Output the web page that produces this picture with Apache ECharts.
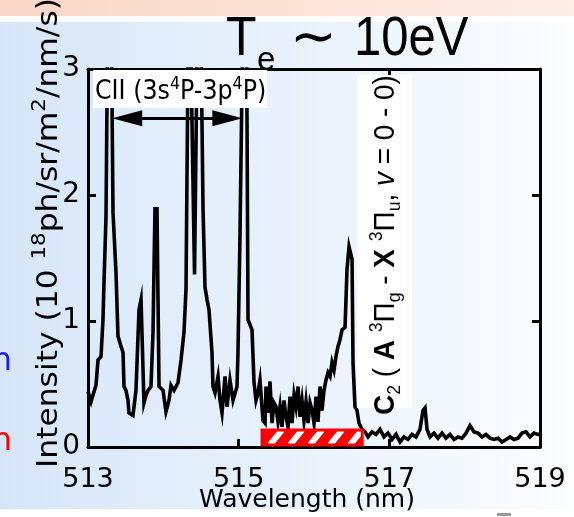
<!DOCTYPE html>
<html>
<head>
<meta charset="utf-8">
<script src="https://cdn.jsdelivr.net/npm/echarts@6/dist/echarts.min.js"></script>
<style>
  html, body { margin: 0; padding: 0; background: #fff; }
  #chart { width: 574px; height: 517px; }
</style>
</head>
<body>
<div id="chart"></div>
<script>
// Emission spectrum around the C2 Swan band head (Te ~ 10 eV)
const wavelength = [
  513.000, 513.013, 513.040, 513.066, 513.106, 513.133, 513.173, 513.199, 513.212, 513.239,
  513.285, 513.332, 513.372, 513.398, 513.438, 513.465, 513.478, 513.504, 513.531, 513.544,
  513.597, 513.637, 513.677, 513.704, 513.730, 513.743, 513.770, 513.797, 513.836, 513.863,
  513.889, 513.916, 513.929, 513.943, 513.996, 514.035, 514.075, 514.102, 514.142, 514.195,
  514.235, 514.274, 514.301, 514.341, 514.414, 514.474, 514.527, 514.553, 514.580, 514.606,
  514.646, 514.659, 514.686, 514.726, 514.752, 514.779, 514.819, 514.845, 514.885, 514.925,
  514.978, 514.991, 515.018, 515.091, 515.124, 515.177, 515.204, 515.230, 515.257, 515.283,
  515.323, 515.350, 515.363, 515.389, 515.416, 515.443, 515.469, 515.496, 515.522, 515.549,
  515.575, 515.602, 515.628, 515.655, 515.682, 515.708, 515.735, 515.761, 515.788, 515.814,
  515.841, 515.867, 515.894, 515.921, 515.947, 515.974, 516.000, 516.027, 516.053, 516.080,
  516.106, 516.133, 516.159, 516.186, 516.213, 516.239, 516.266, 516.292, 516.319, 516.345,
  516.372, 516.412, 516.438, 516.465, 516.491, 516.505, 516.518, 516.544, 516.571, 516.597,
  516.637, 516.677, 516.717, 516.770, 516.823, 516.876, 516.929, 516.982, 517.036, 517.089,
  517.142, 517.195, 517.248, 517.301, 517.354, 517.407, 517.447, 517.474, 517.500, 517.540,
  517.593, 517.646, 517.699, 517.752, 517.805, 517.858, 517.912, 517.965, 518.018, 518.071,
  518.124, 518.177, 518.230, 518.283, 518.336, 518.389, 518.443, 518.496, 518.549, 518.602,
  518.655, 518.708, 518.761, 518.814, 518.867, 518.920, 518.973, 519.000
];
const intensity = [
  0.44, 0.45, 0.36, 0.37, 0.49, 0.69, 0.72, 1.01, 1.30, 1.83,
  5.00, 1.86, 1.38, 0.88, 0.80, 0.75, 0.48, 0.45, 0.37, 0.27,
  0.25, 0.45, 1.09, 1.17, 1.17, 0.35, 0.41, 0.45, 0.48, 0.91,
  1.89, 1.89, 1.19, 0.48, 0.45, 0.28, 0.37, 0.49, 0.45, 0.51,
  0.69, 0.91, 1.25, 4.00, 1.37, 4.50, 1.89, 1.27, 1.17, 1.09,
  0.75, 0.48, 0.43, 0.56, 0.37, 0.27, 0.56, 0.32, 0.53, 0.37,
  0.48, 0.75, 1.70, 5.00, 1.01, 0.93, 0.51, 0.37, 0.43, 0.53,
  0.21, 0.19, 0.48, 0.27, 0.52, 0.19, 0.35, 0.32, 0.20, 0.32,
  0.16, 0.37, 0.24, 0.16, 0.40, 0.19, 0.41, 0.32, 0.48, 0.24,
  0.37, 0.21, 0.36, 0.19, 0.35, 0.29, 0.19, 0.40, 0.20, 0.48,
  0.29, 0.45, 0.53, 0.59, 0.56, 0.67, 0.61, 0.72, 0.80, 0.85,
  0.93, 0.95, 1.41, 1.59, 1.59, 1.49, 0.67, 0.32, 0.29, 0.19,
  0.14, 0.12, 0.08, 0.12, 0.10, 0.14, 0.08, 0.11, 0.06, 0.10,
  0.04, 0.08, 0.06, 0.10, 0.08, 0.14, 0.29, 0.31, 0.14, 0.08,
  0.11, 0.07, 0.11, 0.07, 0.10, 0.06, 0.08, 0.07, 0.11, 0.17,
  0.12, 0.11, 0.08, 0.10, 0.07, 0.06, 0.07, 0.04, 0.06, 0.08,
  0.06, 0.07, 0.11, 0.12, 0.08, 0.11, 0.10, 0.10
];

// Axis ranges and tick steps
const xRange = [513, 519];
const xStep = 2;
const yRange = [0, 3];
const yStep = 1;

// CII multiplet span (double arrow) and the hatched C2 integration band
const ciiSpan = [513.52, 514.85];
const ciiLevel = 2.61;
const bandSpan = [515.31, 516.64];
const bandLevel = [0.016, 0.135];

const FONT = 'DejaVu Sans';
const chart = echarts.init(document.getElementById('chart'), null, { renderer: 'canvas' });

const axisLine = { show: true, onZero: false, lineStyle: { color: '#000', width: 3 } };
const innerTick = { show: true, inside: true, length: 8, lineStyle: { color: '#000', width: 3 } };

// Red box with white diagonal hatching, placed from data coordinates
function hatchItem(params, api) {
  const tl = api.coord([api.value(0), api.value(3)]);
  const br = api.coord([api.value(1), api.value(2)]);
  const x = tl[0], y = tl[1], w = br[0] - tl[0], h = br[1] - tl[1];
  const slant = 12, gap = 20;
  const children = [{ type: 'rect', shape: { x, y, width: w, height: h }, style: { fill: '#ff0000' } }];
  for (let s = x - slant; s < x + w; s += gap) {
    const t1 = Math.max(0, (x - s) / slant);
    const t2 = Math.min(1, (x + w - s) / slant);
    if (t2 <= t1) continue;
    children.push({
      type: 'line',
      shape: { x1: s + slant * t1, y1: y + h - h * t1, x2: s + slant * t2, y2: y + h - h * t2 },
      style: { stroke: '#ffffff', lineWidth: 6 }
    });
  }
  children.push({ type: 'rect', shape: { x, y, width: w, height: h }, style: { fill: 'none', stroke: '#ff0000', lineWidth: 3 } });
  return { type: 'group', children };
}

const option = {
  animation: false,
  grid: { left: 88, top: 69, width: 452, height: 378, containLabel: false, outerBoundsMode: 'none' },
  xAxis: [
    {
      type: 'value', min: xRange[0], max: xRange[1], interval: xStep, position: 'bottom',
      axisLine, axisTick: innerTick, splitLine: { show: false },
      axisLabel: { color: '#000', fontFamily: FONT, fontSize: 27, margin: 19 },
      name: 'Wavelength (nm)', nameLocation: 'middle', nameGap: 41, nameMoveOverlap: false,
      nameTextStyle: { color: '#000', fontFamily: FONT, fontSize: 25, padding: [0, 14, 0, 0] }
    },
    {
      type: 'value', min: xRange[0], max: xRange[1], interval: xStep, position: 'top',
      axisLine, axisTick: innerTick, splitLine: { show: false }, axisLabel: { show: false }
    }
  ],
  yAxis: [
    {
      type: 'value', min: yRange[0], max: yRange[1], interval: yStep, position: 'left',
      axisLine, axisTick: innerTick, splitLine: { show: false },
      axisLabel: { color: '#000', fontFamily: FONT, fontSize: 28, margin: 8 }
    },
    {
      type: 'value', min: yRange[0], max: yRange[1], interval: yStep, position: 'right',
      axisLine, axisTick: innerTick, splitLine: { show: false }, axisLabel: { show: false }
    }
  ],
  series: [
    {
      type: 'line',
      data: wavelength.map((w, i) => [w, intensity[i]]),
      showSymbol: false,
      clip: true,
      lineStyle: { color: '#000', width: 3.6, join: 'miter' },
      z: 3,
      markLine: {
        silent: true,
        symbol: ['triangle', 'triangle'],
        symbolSize: [16, 30],
        lineStyle: { color: '#000', width: 3, type: 'solid' },
        label: { show: false },
        data: [[{ coord: [ciiSpan[0], ciiLevel] }, { coord: [ciiSpan[1], ciiLevel] }]]
      }
    },
    {
      type: 'custom',
      renderItem: hatchItem,
      encode: { x: [0, 1], y: [2, 3] },
      data: [[bandSpan[0], bandSpan[1], bandLevel[0], bandLevel[1]]],
      z: 4
    }
  ],
  graphic: [
    // slide background
    { type: 'rect', z: -20, shape: { x: 0, y: 0, width: 574, height: 517 },
      style: { fill: new echarts.graphic.LinearGradient(0, 0, 1, 0, [
        { offset: 0, color: '#d6e6f8' }, { offset: 1, color: '#fbfdff' }]) } },
    { type: 'rect', z: -19, shape: { x: 0, y: 0, width: 574, height: 16 },
      style: { fill: new echarts.graphic.LinearGradient(0, 0, 1, 0, [
        { offset: 0, color: '#fad7c6' }, { offset: 1, color: '#fdeee6' }]) } },
    { type: 'rect', z: -19, shape: { x: 0, y: 16, width: 574, height: 6 }, style: { fill: '#ffffff' } },
    { type: 'rect', z: -19, shape: { x: 0, y: 509, width: 574, height: 8 }, style: { fill: '#ffffff' } },
    { type: 'rect', z: -18, shape: { x: 497, y: 513, width: 14, height: 3 }, style: { fill: '#9a9a9a' } },

    // title
    { type: 'text', z: 10, x: 226, y: 40, scaleY: 1.12,
      style: { text: 'T', font: '50px "Liberation Sans"', fill: '#000', verticalAlign: 'middle', align: 'left' } },
    { type: 'text', z: 10, x: 257, y: 61,
      style: { text: 'e', font: '33px "Liberation Sans"', fill: '#000', verticalAlign: 'middle', align: 'left' } },
    { type: 'text', z: 10, x: 290, y: 40,
      style: { text: '\u223C', font: '56px "DejaVu Sans"', fill: '#000', verticalAlign: 'middle', align: 'left' } },
    { type: 'text', z: 10, x: 354, y: 40, scaleY: 1.12,
      style: { text: '10eV', font: '49px "Liberation Sans"', fill: '#000', verticalAlign: 'middle', align: 'left' } },

    // CII label
    { type: 'rect', z: 10, shape: { x: 93, y: 70, width: 174, height: 38 }, style: { fill: '#ffffff' } },
    { type: 'text', z: 11, x: 95, y: 92, scaleX: 0.88,
      style: {
        text: '{m|CII (3s}{s|4}{m|P-3p}{s|4}{m|P)}',
        align: 'left', verticalAlign: 'middle',
        rich: {
          m: { fontFamily: FONT, fontSize: 27, color: '#000', verticalAlign: 'middle' },
          s: { fontFamily: FONT, fontSize: 18, color: '#000', verticalAlign: 'middle', padding: [0, 0, 15, 0] }
        }
      } },

    // C2 band label
    { type: 'rect', z: 10, shape: { x: 357, y: 75, width: 55, height: 333 }, style: { fill: '#ffffff' } },
    { type: 'text', z: 11, x: 386, y: 245, rotation: Math.PI / 2, scaleX: 0.93,
      style: {
        text: '{b|C}{sb|2}{r| ( }{b|A }{sp|3}{r|\u03A0}{sb|g}{r| - }{b|X }{sp|3}{r|\u03A0}{sb|u}{r|, }{i|v}{r| = 0 - 0)}',
        align: 'center', verticalAlign: 'middle',
        rich: {
          b: { fontFamily: 'Liberation Sans', fontWeight: 'bold', fontSize: 30, color: '#ff0000', verticalAlign: 'middle' },
          r: { fontFamily: 'Liberation Sans', fontSize: 30, color: '#ff0000', verticalAlign: 'middle' },
          i: { fontFamily: 'Liberation Sans', fontStyle: 'italic', fontSize: 30, color: '#ff0000', verticalAlign: 'middle' },
          sp: { fontFamily: 'Liberation Sans', fontSize: 19, color: '#ff0000', verticalAlign: 'middle', padding: [0, 0, 19, 0] },
          sb: { fontFamily: 'Liberation Sans', fontSize: 19, color: '#ff0000', verticalAlign: 'middle', padding: [17, 0, 0, 0] }
        }
      } },

    // y-axis title
    { type: 'text', z: 10, x: 50, y: 233, rotation: Math.PI / 2, scaleX: 1.12,
      style: {
        text: '{m|Intensity (10 }{s|18}{m|ph/sr/m}{s|2}{m|/nm/s)}',
        align: 'center', verticalAlign: 'middle',
        rich: {
          m: { fontFamily: FONT, fontSize: 28, color: '#000', verticalAlign: 'middle' },
          s: { fontFamily: FONT, fontSize: 19, color: '#000', verticalAlign: 'middle', padding: [0, 0, 19, 0] }
        }
      } },

    // fragments of neighbouring slide text
    { type: 'text', z: 10, x: 12, y: 362,
      style: { text: 'n', font: '32px "DejaVu Sans"', fill: '#1a1aff', align: 'right', verticalAlign: 'middle' } },
    { type: 'text', z: 10, x: 12, y: 442,
      style: { text: 'n', font: '32px "DejaVu Sans"', fill: '#ff0000', align: 'right', verticalAlign: 'middle' } }
  ]
};

chart.setOption(option);
</script>
</body>
</html>
